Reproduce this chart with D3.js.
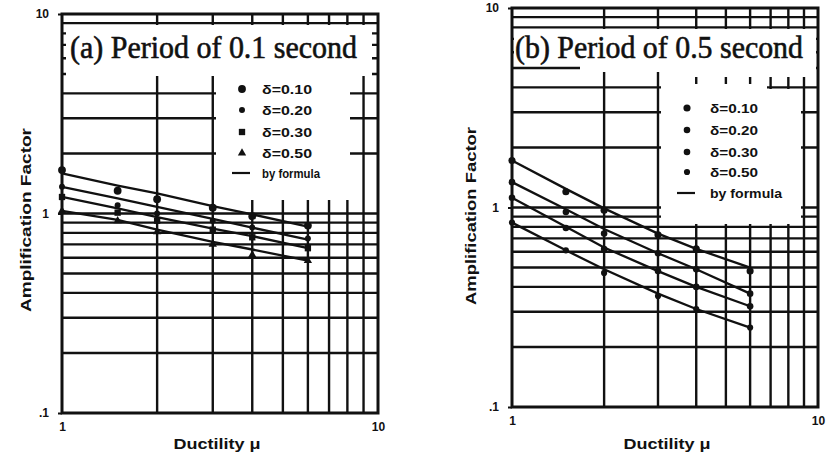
<!DOCTYPE html>
<html>
<head>
<meta charset="utf-8">
<script src="https://cdn.jsdelivr.net/npm/d3@7"></script>
<style>
  body { margin: 0; background: #fff; }
  svg { display: block; }
</style>
</head>
<body>
<div id="chart"></div>
<script>
// data
const ductility   = [1, 1.5, 2, 3, 4, 6];
const seriesNames = ['δ=0.10', 'δ=0.20', 'δ=0.30', 'δ=0.50'];
const formulaName = 'by formula';

const pointsA = [
  [1.65, 1.30, 1.18, 1.07, 0.97, 0.87],
  [1.36, 1.10, 1.00, 0.92, 0.85, 0.75],
  [1.21, 1.01, 0.92, 0.83, 0.76, 0.67],
  [1.03, 0.92, 0.81, 0.70, 0.62, 0.58]
];
const formulaA = [
  [1.59, 1.38, 1.26, 1.09, 0.99, 0.86],
  [1.36, 1.19, 1.08, 0.94, 0.85, 0.74],
  [1.21, 1.06, 0.96, 0.84, 0.77, 0.67],
  [1.03, 0.93, 0.83, 0.72, 0.66, 0.58]
];

const pointsB = [
  [1.72, 1.20, 0.97, 0.73, 0.62, 0.48],
  [1.34, 0.95, 0.74, 0.59, 0.49, 0.37],
  [1.12, 0.79, 0.62, 0.48, 0.40, 0.32],
  [0.84, 0.61, 0.47, 0.36, 0.31, 0.25]
];
const formulaB = [
  [1.72, 1.24, 0.99, 0.74, 0.62, 0.50],
  [1.34, 0.98, 0.78, 0.59, 0.49, 0.37],
  [1.12, 0.80, 0.63, 0.48, 0.40, 0.32],
  [0.84, 0.61, 0.49, 0.37, 0.31, 0.25]
];

const yTickValues = [0.1, 1, 10];
const yTickLabels = ['.1', '1', '10'];
const xTickValues = [1, 10];
const xTickLabels = ['1', '10'];

const ink  = '#111';
const sans = 'Liberation Sans, Arial, sans-serif';

const svg = d3.select('#chart').append('svg').attr('width', 834).attr('height', 469);
svg.append('rect').attr('width', 834).attr('height', 469).attr('fill', '#fff');

function drawPanel(p) {
  const x = d3.scaleLog().domain([1, 10]).range([p.left, p.right]);
  const y = d3.scaleLog().domain([0.1, 10]).range([p.bottom, p.top]);
  const g = svg.append('g');

  // log grid
  g.selectAll('.gx').data(x.ticks().filter(v => v > 1 && v < 10)).join('line')
    .attr('class', 'gx')
    .attr('x1', d => x(d)).attr('x2', d => x(d))
    .attr('y1', p.top).attr('y2', p.bottom)
    .attr('stroke', ink).attr('stroke-width', 2.4);
  g.selectAll('.gy').data(y.ticks().filter(v => v > 0.1 && v < 10)).join('line')
    .attr('class', 'gy')
    .attr('x1', p.left).attr('x2', p.right)
    .attr('y1', d => y(d)).attr('y2', d => y(d))
    .attr('stroke', ink).attr('stroke-width', 2.4);

  // white boxes under title and legend
  g.selectAll('.mask').data(p.masks).join('rect')
    .attr('class', 'mask')
    .attr('x', d => d[0]).attr('y', d => d[1])
    .attr('width', d => d[2] - d[0]).attr('height', d => d[3] - d[1])
    .attr('fill', '#fff');

  // title
  g.append('text')
    .attr('x', p.titleX).attr('y', p.titleY)
    .attr('textLength', p.titleLen).attr('lengthAdjust', 'spacingAndGlyphs')
    .style('font-family', 'Liberation Serif, Times New Roman, serif')
    .style('font-size', '32px').style('fill', ink)
    .style('stroke', ink).style('stroke-width', 0.6)
    .text(p.title);

  // formula lines
  const line = d3.line().x(d => x(d[0])).y(d => y(d[1]));
  p.formula.forEach(f => {
    g.append('path')
      .datum(ductility.map((v, i) => [v, f[i]]))
      .attr('d', line)
      .attr('fill', 'none').attr('stroke', ink).attr('stroke-width', 2.3);
  });

  // data points
  p.points.forEach((s, k) => {
    const sym = d3.symbol().type(p.shapes[k]).size(p.sizes[k]);
    g.selectAll('.pt' + k).data(ductility.map((v, i) => [v, s[i]])).join('path')
      .attr('class', 'pt' + k)
      .attr('transform', d => `translate(${x(d[0])},${y(d[1])})`)
      .attr('d', sym)
      .attr('fill', ink);
  });

  // legend
  seriesNames.forEach((name, k) => {
    const ly = p.legendRows[k];
    g.append('path')
      .attr('transform', `translate(${p.legendMarkX},${ly})`)
      .attr('d', d3.symbol().type(p.shapes[k]).size(p.sizes[k]))
      .attr('fill', ink);
    g.append('text')
      .attr('x', p.legendTextX).attr('y', ly).attr('dy', '0.36em')
      .attr('textLength', p.legendTextLen).attr('lengthAdjust', 'spacingAndGlyphs')
      .style('font-family', sans).style('font-weight', 'bold')
      .style('font-size', '13px').style('fill', ink)
      .text(name);
  });
  const fy = p.legendRows[4];
  g.append('line')
    .attr('x1', p.legendLine[0]).attr('x2', p.legendLine[1])
    .attr('y1', fy).attr('y2', fy)
    .attr('stroke', ink).attr('stroke-width', 2.2);
  g.append('text')
    .attr('x', p.legendTextX).attr('y', fy).attr('dy', '0.36em')
    .attr('textLength', p.formulaLen).attr('lengthAdjust', 'spacingAndGlyphs')
    .style('font-family', sans).style('font-weight', 'bold')
    .style('font-size', '13px').style('fill', ink)
    .text(formulaName);

  // frame
  g.append('rect')
    .attr('x', p.left).attr('y', p.top)
    .attr('width', p.right - p.left).attr('height', p.bottom - p.top)
    .attr('fill', 'none').attr('stroke', ink).attr('stroke-width', 3);

  // axes
  g.append('g').attr('transform', `translate(${p.left},0)`)
    .call(d3.axisLeft(y).tickValues(yTickValues).tickFormat((d, i) => yTickLabels[i]).tickSize(4).tickPadding(9))
    .call(a => a.select('.domain').remove())
    .call(a => a.selectAll('line').attr('stroke', ink).attr('stroke-width', 2))
    .call(a => a.selectAll('text').style('font-family', sans).style('font-weight', 'bold').style('font-size', '12px').style('fill', ink));
  g.append('g').attr('transform', `translate(0,${p.bottom})`)
    .call(d3.axisBottom(x).tickValues(xTickValues).tickFormat((d, i) => xTickLabels[i]).tickSize(0).tickPadding(9))
    .call(a => a.select('.domain').remove())
    .call(a => a.selectAll('text').style('font-family', sans).style('font-weight', 'bold').style('font-size', '12px').style('fill', ink));

  // axis titles
  g.append('text')
    .attr('transform', `translate(${p.yLabelX},${p.yLabelY}) rotate(-90)`)
    .attr('text-anchor', 'middle').attr('dominant-baseline', 'central')
    .attr('textLength', p.yLabelLen).attr('lengthAdjust', 'spacingAndGlyphs')
    .style('font-family', sans).style('font-weight', 'bold').style('font-size', '15px').style('fill', ink)
    .text('Amplification Factor');
  g.append('text')
    .attr('x', p.xLabelX).attr('y', 443)
    .attr('text-anchor', 'middle').attr('dominant-baseline', 'central')
    .attr('textLength', 87).attr('lengthAdjust', 'spacingAndGlyphs')
    .style('font-family', sans).style('font-weight', 'bold').style('font-size', '15px').style('fill', ink)
    .text('Ductility μ');
}

drawPanel({
  left: 62, right: 378, top: 14, bottom: 413,
  points: pointsA, formula: formulaA,
  shapes: [d3.symbolCircle, d3.symbolCircle, d3.symbolSquare, d3.symbolTriangle],
  sizes: [48, 28, 40, 30],
  masks: [[66, 25, 372, 76], [216, 76, 350, 200]],
  title: '(a)  Period of 0.1 second', titleX: 70, titleY: 58, titleLen: 287,
  legendMarkX: 242, legendTextX: 262, legendTextLen: 50, formulaLen: 58,
  legendRows: [89, 110, 132, 153, 173], legendLine: [232, 250],
  yLabelX: 25, yLabelY: 220, yLabelLen: 184, xLabelX: 217
});

drawPanel({
  left: 512, right: 818, top: 8, bottom: 407,
  points: pointsB, formula: formulaB,
  shapes: [d3.symbolCircle, d3.symbolCircle, d3.symbolCircle, d3.symbolCircle],
  sizes: [40, 34, 34, 30],
  masks: [[514, 29, 816, 66], [580, 66, 816, 72], [661, 72, 816, 77], [661, 84, 767, 224], [767, 89, 801, 224]],
  title: '(b)  Period of 0.5 second', titleX: 515, titleY: 58, titleLen: 288,
  legendMarkX: 687, legendTextX: 710, legendTextLen: 48, formulaLen: 72,
  legendRows: [108, 130, 152, 172, 193], legendLine: [677, 695],
  yLabelX: 470, yLabelY: 216, yLabelLen: 178, xLabelX: 667
});
</script>
</body>
</html>
